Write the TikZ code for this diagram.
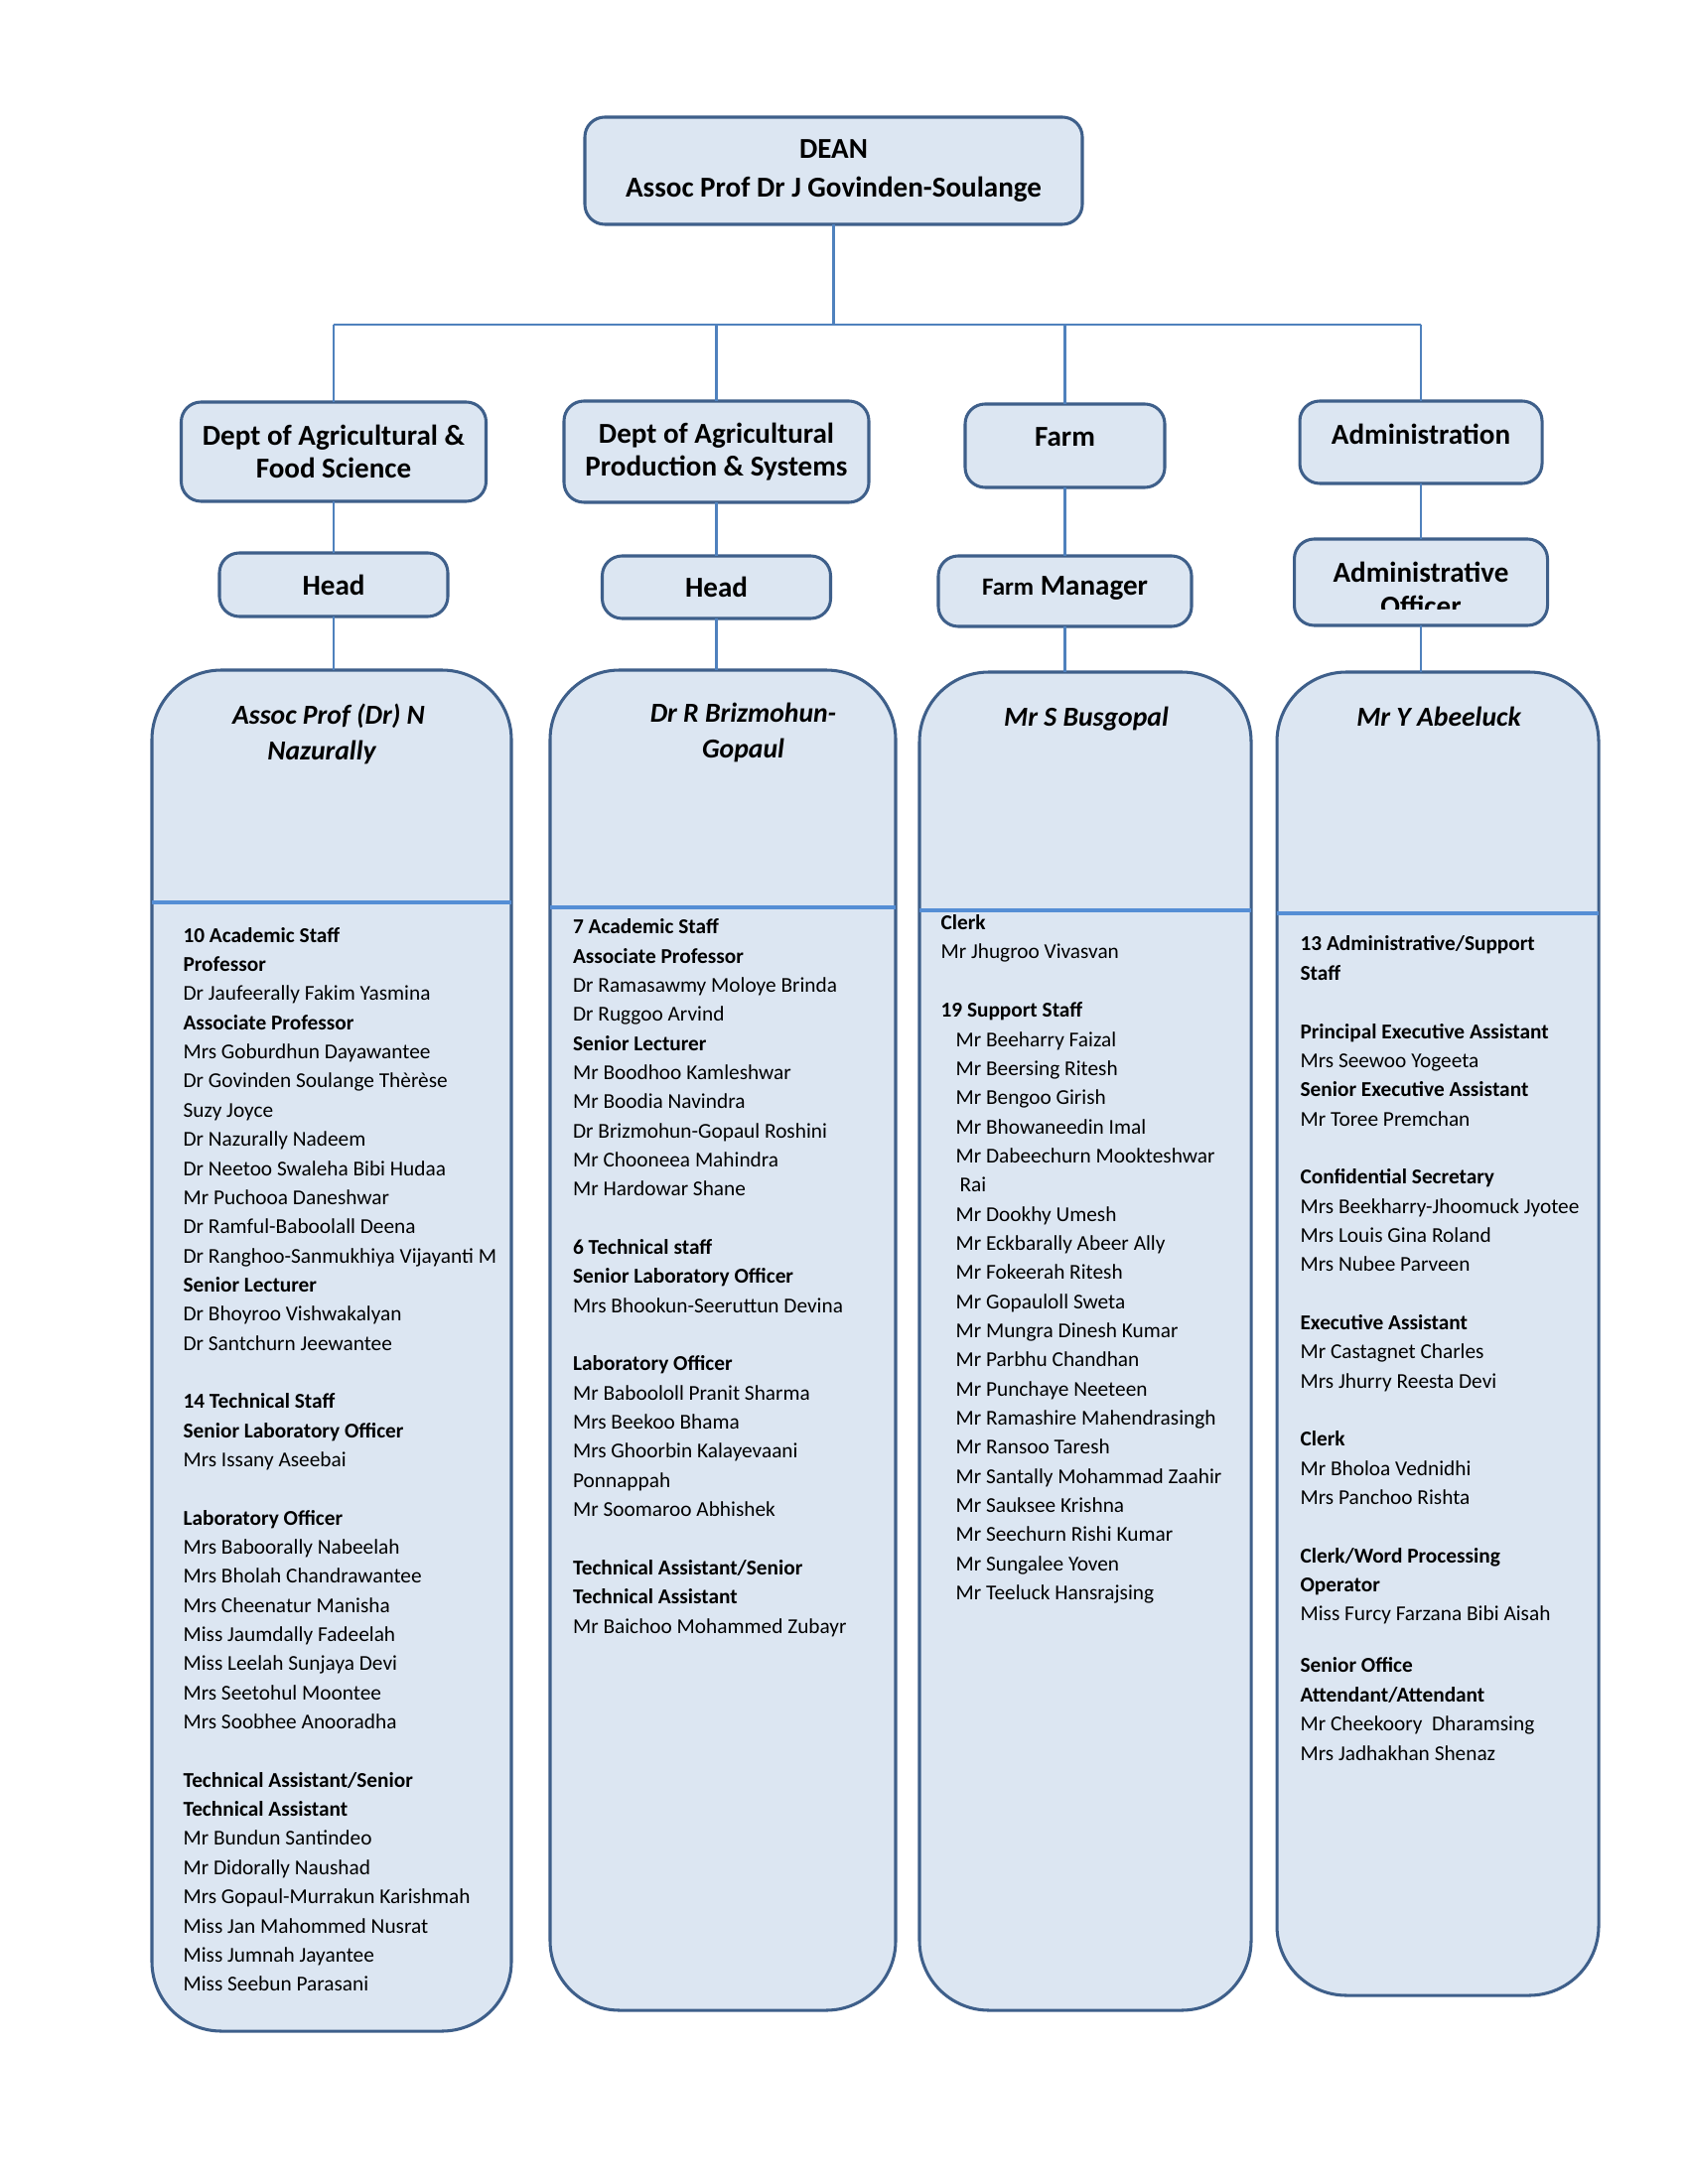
\documentclass[tikz,border=0pt]{standalone}
\usepackage{fontspec}
\setmainfont{Carlito}
\newlength\pxu
\setlength\pxu{0.0127cm}
\definecolor{boxfill}{HTML}{DCE6F2}
\definecolor{boxline}{HTML}{3E5F8A}
\definecolor{connline}{HTML}{4F81BD}
\definecolor{divline}{HTML}{558ED5}
\tikzset{
  orgbox/.style={draw=boxline, fill=boxfill, line width=1.1pt, rounded corners=20\pxu, inner sep=0pt, outer sep=0pt},
  bigbox/.style={orgbox, rounded corners=70\pxu},
  conn/.style={draw=connline, line width=1pt},
  divider/.style={draw=divline, line width=1.4pt},
  lbl/.style={font=\fontsize{10.5}{12.2}\selectfont\bfseries, align=center, inner sep=0pt},
  ttl/.style={font=\fontsize{10}{13}\selectfont\bfseries\itshape, align=center, inner sep=0pt},
  lst/.style={font=\fontsize{7.7}{10.6}\selectfont, align=left, anchor=base west, inner sep=0pt},
}
\begin{document}
\begin{tikzpicture}[x=0.0127cm,y=-0.0127cm]
\useasboundingbox (0,0) rectangle (1700,2200);
\fill[white] (0,0) rectangle (1700,2200);

% boxes
\node[orgbox, minimum width=501\pxu, minimum height=108\pxu, font=\fontsize{10.5}{14.1}\selectfont\bfseries, align=center] (dean) at (839.5,172) {DEAN\\Assoc Prof Dr J Govinden-Soulange};

\node[orgbox, minimum width=307\pxu, minimum height=100\pxu] (d1) at (336,455) {};
\node[orgbox, minimum width=307\pxu, minimum height=102\pxu] (d2) at (721.5,455) {};
\node[orgbox, minimum width=201\pxu, minimum height=84\pxu] (d3) at (1072.5,449) {};
\node[orgbox, minimum width=244\pxu, minimum height=83\pxu] (d4) at (1431,445.5) {};

\node[orgbox, minimum width=230\pxu, minimum height=64\pxu] (h1) at (336,589) {};
\node[orgbox, minimum width=230\pxu, minimum height=63\pxu] (h2) at (721.5,591.5) {};
\node[orgbox, minimum width=255\pxu, minimum height=71\pxu] (h3) at (1072.5,595.5) {};
\node[orgbox, minimum width=255\pxu, minimum height=87\pxu] (h4) at (1431,586.5) {};

\node[bigbox, minimum width=362\pxu, minimum height=1371\pxu] (b1) at (334,1360.5) {};
\node[bigbox, minimum width=348\pxu, minimum height=1350\pxu] (b2) at (728,1350) {};
\node[bigbox, minimum width=334\pxu, minimum height=1348\pxu] (b3) at (1093,1351) {};
\node[bigbox, minimum width=324\pxu, minimum height=1333\pxu] (b4) at (1448,1343.5) {};

% labels
\node[lbl] (d1t) at (d1.center) {Dept of Agricultural \&\\Food Science};
\node[lbl] (d2t) at (d2.center) {Dept of Agricultural\\Production \& Systems};
\node[lbl] (d3t) at (1072.5,440) {Farm};
\node[lbl] (d4t) at (1431,437.6) {Administration};
\node[lbl] (h1t) at (h1.center) {Head};
\node[lbl] (h2t) at (h2.center) {Head};
\node[lbl] (h3t) at (1072.5,593) {{\fontsize{9}{11}\selectfont Farm} Manager};
\begin{scope}
\clip (1303,543) rectangle (1558,614);
\node[lbl] (h4t) at (1431,593.5) {Administrative\\Officer};
\end{scope}

% connectors
\coordinate (busM) at (839.5,327);
\draw[conn] (dean.south) -- (busM);
\draw[conn] (d1.north |- busM) -- (d4.north |- busM);
\foreach \i in {1,2,3,4}{
  \draw[conn] (d\i.north |- busM) -- (d\i.north);
  \draw[conn] (d\i.south) -- (h\i.north);
  \draw[conn] (h\i.south) -- (h\i.south |- b\i.north);
}

% dividers
\draw[divider] (b1.west |- 0,909) -- (b1.east |- 0,909);
\draw[divider] (b2.west |- 0,914) -- (b2.east |- 0,914);
\draw[divider] (b3.west |- 0,917) -- (b3.east |- 0,917);
\draw[divider] (b4.west |- 0,920) -- (b4.east |- 0,920);

% titles
\node[ttl] (t1) at (331,739) {Assoc Prof (Dr) N\\Nazurally\hspace*{14\pxu}};
\node[ttl] (t2) at (748.5,738) {Dr R Brizmohun-\\Gopaul};
\node[ttl] (t3) at (1094,724) {Mr S Busgopal};
\node[ttl] (t4) at (1449,722) {Mr Y Abeeluck};

% lists (anchored at the baseline of the last line)
\node[lst] (l1) at (184,2005.7) {\textbf{10 Academic Staff}\\
\textbf{Professor}\\
Dr Jaufeerally Fakim Yasmina\\
\textbf{Associate Professor}\\
Mrs Goburdhun Dayawantee\\
Dr Govinden Soulange Thèrèse\\
Suzy Joyce\\
Dr Nazurally Nadeem\\
Dr Neetoo Swaleha Bibi Hudaa\\
Mr Puchooa Daneshwar\\
Dr Ramful-Baboolall Deena\\
Dr Ranghoo-Sanmukhiya Vijayanti M\\
\textbf{Senior Lecturer}\\
Dr Bhoyroo Vishwakalyan\\
Dr Santchurn Jeewantee\\[10.6pt]
\textbf{14 Technical Staff}\\
\textbf{Senior Laboratory Officer}\\
Mrs Issany Aseebai\\[10.6pt]
\textbf{Laboratory Officer}\\
Mrs Baboorally Nabeelah\\
Mrs Bholah Chandrawantee\\
Mrs Cheenatur Manisha\\
Miss Jaumdally Fadeelah\\
Miss Leelah Sunjaya Devi\\
Mrs Seetohul Moontee\\
Mrs Soobhee Anooradha\\[10.6pt]
\textbf{Technical Assistant/Senior}\\
\textbf{Technical Assistant}\\
Mr Bundun Santindeo\\
Mr Didorally Naushad\\
Mrs Gopaul-Murrakun Karishmah\\
Miss Jan Mahommed Nusrat\\
Miss Jumnah Jayantee\\
Miss Seebun Parasani};

\node[lst] (l2) at (576.5,1645) {\textbf{7 Academic Staff}\\
\textbf{Associate Professor}\\
Dr Ramasawmy Moloye Brinda\\
Dr Ruggoo Arvind\\
\textbf{Senior Lecturer}\\
Mr Boodhoo Kamleshwar\\
Mr Boodia Navindra\\
Dr Brizmohun-Gopaul Roshini\\
Mr Chooneea Mahindra\\
Mr Hardowar Shane\\[10.6pt]
\textbf{6 Technical staff}\\
\textbf{Senior Laboratory Officer}\\
Mrs Bhookun-Seeruttun Devina\\[10.6pt]
\textbf{Laboratory Officer}\\
Mr Baboololl Pranit Sharma\\
Mrs Beekoo Bhama\\
Mrs Ghoorbin Kalayevaani\\
Ponnappah\\
Mr Soomaroo Abhishek\\[10.6pt]
\textbf{Technical Assistant/Senior}\\
\textbf{Technical Assistant}\\
Mr Baichoo Mohammed Zubayr};

\node[lst] (l3) at (947,1611.6) {\textbf{Clerk}\\
Mr Jhugroo Vivasvan\\[10.6pt]
\textbf{19 Support Staff}\\
\hspace*{15\pxu}Mr Beeharry Faizal\\
\hspace*{15\pxu}Mr Beersing Ritesh\\
\hspace*{15\pxu}Mr Bengoo Girish\\
\hspace*{15\pxu}Mr Bhowaneedin Imal\\
\hspace*{15\pxu}Mr Dabeechurn Mookteshwar\\
\hspace*{19\pxu}Rai\\
\hspace*{15\pxu}Mr Dookhy Umesh\\
\hspace*{15\pxu}Mr Eckbarally Abeer Ally\\
\hspace*{15\pxu}Mr Fokeerah Ritesh\\
\hspace*{15\pxu}Mr Gopauloll Sweta\\
\hspace*{15\pxu}Mr Mungra Dinesh Kumar\\
\hspace*{15\pxu}Mr Parbhu Chandhan\\
\hspace*{15\pxu}Mr Punchaye Neeteen\\
\hspace*{15\pxu}Mr Ramashire Mahendrasingh\\
\hspace*{15\pxu}Mr Ransoo Taresh\\
\hspace*{15\pxu}Mr Santally Mohammad Zaahir\\
\hspace*{15\pxu}Mr Sauksee Krishna\\
\hspace*{15\pxu}Mr Seechurn Rishi Kumar\\
\hspace*{15\pxu}Mr Sungalee Yoven\\
\hspace*{15\pxu}Mr Teeluck Hansrajsing};

\node[lst] (l4) at (1309,1773) {\textbf{13 Administrative/Support}\\
\textbf{Staff}\\[10.6pt]
\textbf{Principal Executive Assistant}\\
Mrs Seewoo Yogeeta\\
\textbf{Senior Executive Assistant}\\
Mr Toree Premchan\\[10.6pt]
\textbf{Confidential Secretary}\\
Mrs Beekharry-Jhoomuck Jyotee\\
Mrs Louis Gina Roland\\
Mrs Nubee Parveen\\[10.6pt]
\textbf{Executive Assistant}\\
Mr Castagnet Charles\\
Mrs Jhurry Reesta Devi\\[10.6pt]
\textbf{Clerk}\\
Mr Bholoa Vednidhi\\
Mrs Panchoo Rishta\\[10.6pt]
\textbf{Clerk/Word Processing}\\
\textbf{Operator}\\
Miss Furcy Farzana Bibi Aisah\\[8.2pt]
\textbf{Senior Office}\\
\textbf{Attendant/Attendant}\\
Mr Cheekoory\ \ Dharamsing\\
Mrs Jadhakhan Shenaz};
\end{tikzpicture}
\end{document}
